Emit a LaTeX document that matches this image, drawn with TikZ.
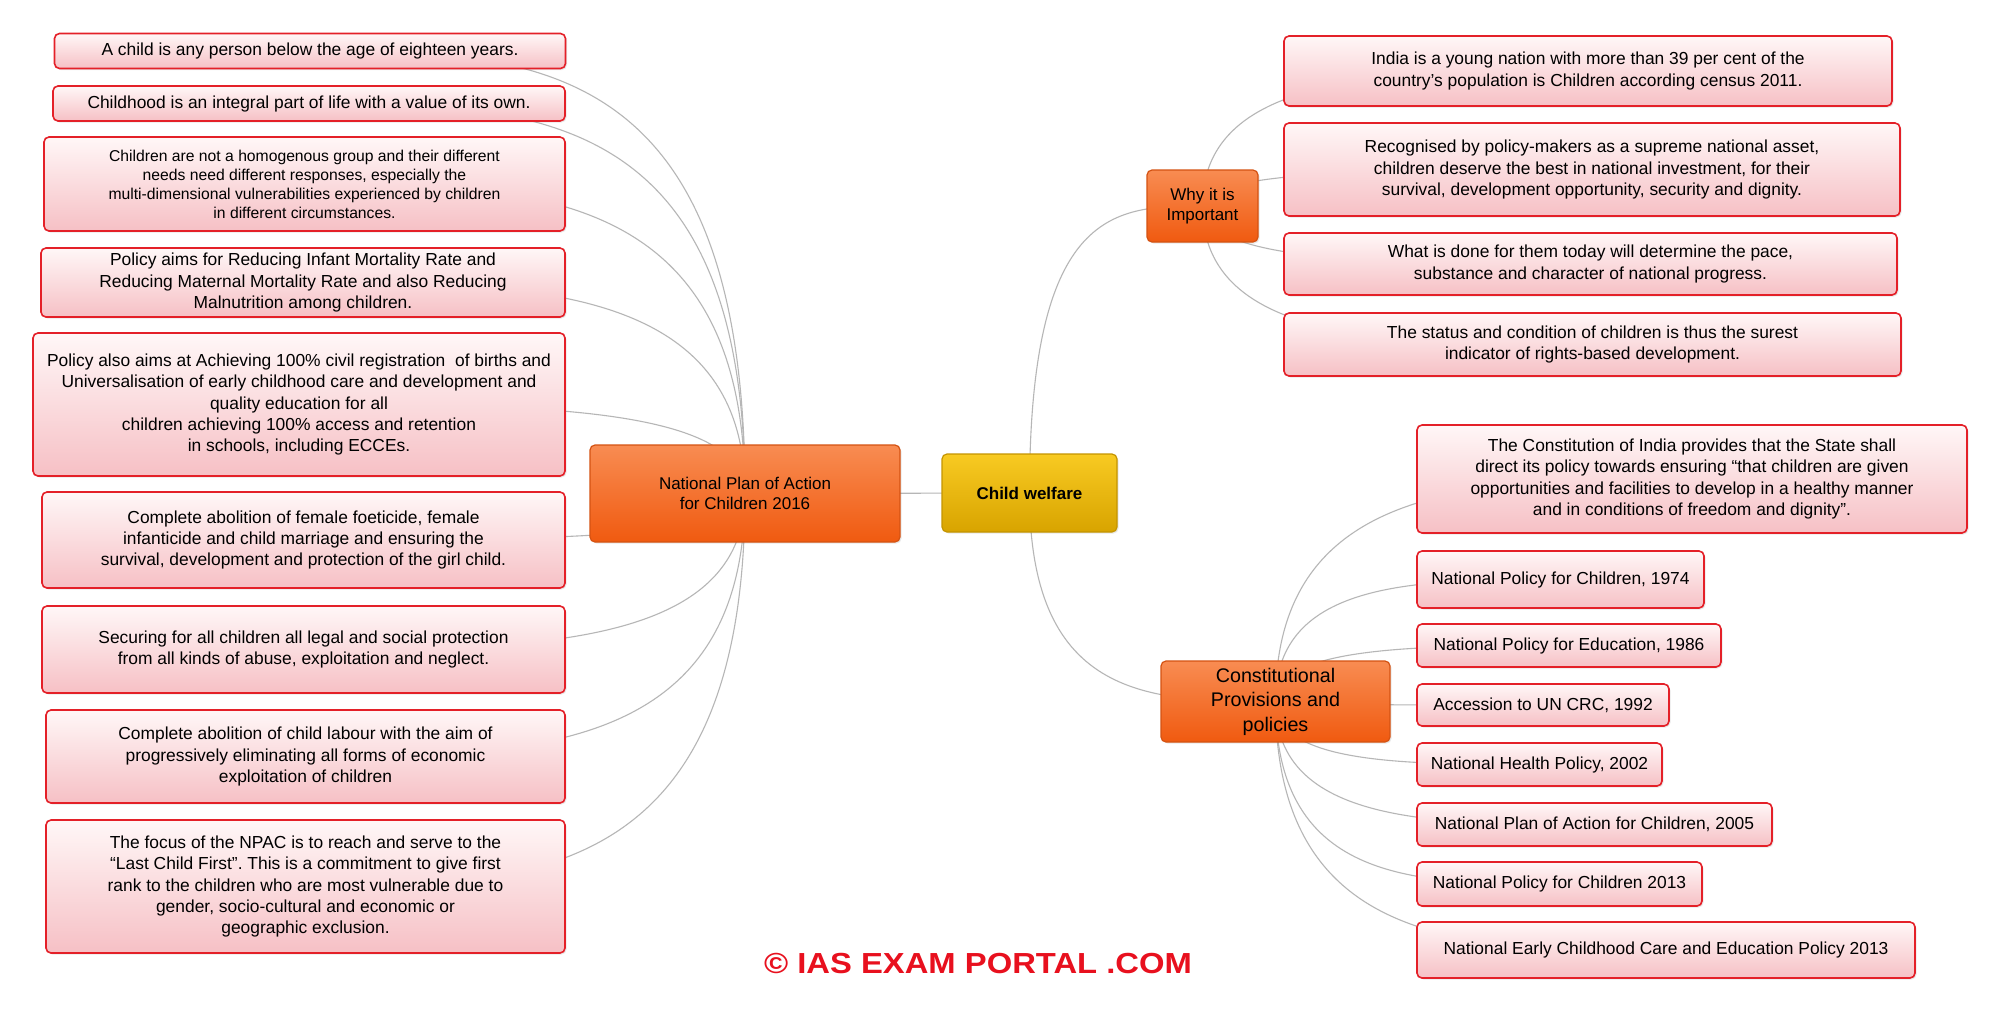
\documentclass[tikz,border=0pt]{standalone}
\usepackage{fontspec}
\setmainfont{Liberation Sans}
\usetikzlibrary{calc,shadows,backgrounds}
\frenchspacing
\definecolor{boxred}{RGB}{228,32,40}
\definecolor{pinktop}{RGB}{255,247,247}
\definecolor{pinkbot}{RGB}{246,192,197}
\definecolor{orgtop}{RGB}{248,140,82}
\definecolor{orgbot}{RGB}{240,90,16}
\definecolor{orgline}{RGB}{212,82,18}
\definecolor{yeltop}{RGB}{248,202,34}
\definecolor{yelbot}{RGB}{216,164,0}
\definecolor{yelline}{RGB}{196,148,0}
\definecolor{linkgray}{RGB}{182,182,182}
\definecolor{cpred}{RGB}{232,16,30}
\newcommand\mmfa{\fontsize{17.4}{21.3}\selectfont}
\newcommand\mmfb{\fontsize{15.7}{19}\selectfont}
\newcommand\mmfc{\fontsize{19.7}{24.5}\selectfont}
\newcommand\mmfd{\fontsize{17}{20.5}\selectfont}
\newcommand\mmlink[2]{\draw[link] (#1.center) .. controls (#1.center |- #2.center) and ($(#2.center)!0.5!(#1.center |- #2.center)$) .. (#2.center);}
\tikzset{
  leaf/.style={draw=boxred, line width=1.6pt, rounded corners=5pt,
    top color=pinktop, bottom color=pinkbot, align=center, inner sep=0pt,
    text=black, font=\mmfa,
    drop shadow={shadow xshift=1.5pt, shadow yshift=-1.5pt, opacity=0.18}},
  hub/.style={draw=orgline, line width=1.2pt, rounded corners=5pt,
    top color=orgtop, bottom color=orgbot, align=center, inner sep=0pt,
    text=black, font=\mmfd,
    drop shadow={shadow xshift=1.5pt, shadow yshift=-1.5pt, opacity=0.18}},
  root/.style={draw=yelline, line width=1.2pt, rounded corners=5pt,
    top color=yeltop, bottom color=yelbot, align=center, inner sep=0pt,
    text=black, font=\bfseries\mmfd,
    drop shadow={shadow xshift=1.5pt, shadow yshift=-1.5pt, opacity=0.18}},
  link/.style={draw=linkgray, line width=1.1pt}
}
\begin{document}
\begin{tikzpicture}[x=1pt,y=-1pt]
\useasboundingbox (0,0) rectangle (2000,1010);

% ---- central nodes
\node[root, minimum width=175pt, minimum height=78pt] (cw) at (1029.5,493) {Child welfare};
\node[hub, minimum width=310pt, minimum height=97pt] (np) at (745,493.5) {National Plan of Action\\for Children 2016};
\node[hub, minimum width=111pt, minimum height=72pt] (why) at (1202.5,206) {Why it is\\Important};
\node[hub, font=\mmfc, minimum width=229pt, minimum height=81pt] (cons) at (1275.5,701.5) {Constitutional\\Provisions and\\policies};

% ---- left leaves
\node[leaf, minimum width=511pt, minimum height=35pt] (b1) at (310,51) {A child is any person below the age of eighteen years.};
\node[leaf, minimum width=512pt, minimum height=35pt] (b2) at (309,103.5) {Childhood is an integral part of life with a value of its own.};
\node[leaf, font=\mmfb, minimum width=521pt, minimum height=94pt] (b3) at (304.5,184) {Children are not a homogenous group and their different\\needs need different responses, especially the\\multi-dimensional vulnerabilities experienced by children\\in different circumstances.};
\node[leaf, minimum width=524pt, minimum height=69pt] (b4) at (303,282.5) {Policy aims for Reducing Infant Mortality Rate and\\Reducing Maternal Mortality Rate and also Reducing\\Malnutrition among children.};
\node[leaf, minimum width=532pt, minimum height=143pt] (b5) at (299,404.5) {Policy also aims at Achieving 100\% civil registration\ \ of births and\\Universalisation of early childhood care and development and\\quality education for all\\children achieving 100\% access and retention\\in schools, including ECCEs.};
\node[leaf, minimum width=523pt, minimum height=96pt] (b6) at (303.5,540) {Complete abolition of female foeticide, female\\infanticide and child marriage and ensuring the\\survival, development and protection of the girl child.};
\node[leaf, minimum width=523pt, minimum height=87pt] (b7) at (303.5,649.5) {Securing for all children all legal and social protection\\from all kinds of abuse, exploitation and neglect.};
\node[leaf, minimum width=519pt, minimum height=93pt] (b8) at (305.5,756.5) {Complete abolition of child labour with the aim of\\progressively eliminating all forms of economic\\exploitation of children};
\node[leaf, minimum width=519pt, minimum height=133pt] (b9) at (305.5,886.5) {The focus of the NPAC is to reach and serve to the\\“Last Child First”. This is a commitment to give first\\rank to the children who are most vulnerable due to\\gender, socio-cultural and economic or\\geographic exclusion.};

% ---- right top leaves
\node[leaf, minimum width=608pt, minimum height=70pt] (r1) at (1588,71) {India is a young nation with more than 39 per cent of the\\country’s population is Children according census 2011.};
\node[leaf, minimum width=616pt, minimum height=93pt] (r2) at (1592,169.5) {Recognised by policy-makers as a supreme national asset,\\children deserve the best in national investment, for their\\survival, development opportunity, security and dignity.};
\node[leaf, minimum width=613pt, minimum height=62pt] (r3) at (1590.5,264) {What is done for them today will determine the pace,\\substance and character of national progress.};
\node[leaf, minimum width=617pt, minimum height=63pt] (r4) at (1592.5,344.5) {The status and condition of children is thus the surest\\indicator of rights-based development.};

% ---- right bottom leaves
\node[leaf, minimum width=550pt, minimum height=108pt] (r5) at (1692,479) {The Constitution of India provides that the State shall\\direct its policy towards ensuring “that children are given\\opportunities and facilities to develop in a healthy manner\\and in conditions of freedom and dignity”.};
\node[leaf, minimum width=287pt, minimum height=57pt] (p1) at (1560.5,579.5) {National Policy for Children, 1974};
\node[leaf, minimum width=304pt, minimum height=43pt] (p2) at (1569,645.5) {National Policy for Education, 1986};
\node[leaf, minimum width=252pt, minimum height=42pt] (p3) at (1543,705) {Accession to UN CRC, 1992};
\node[leaf, minimum width=245pt, minimum height=43pt] (p4) at (1539.5,764.5) {National Health Policy, 2002};
\node[leaf, minimum width=355pt, minimum height=43pt] (p5) at (1594.5,824.5) {National Plan of Action for Children, 2005};
\node[leaf, minimum width=285pt, minimum height=44pt] (p6) at (1559.5,884) {National Policy for Children 2013};
\node[leaf, minimum width=498pt, minimum height=56pt] (p7) at (1666,950) {National Early Childhood Care and Education Policy 2013};

% ---- background page and connectors (behind the boxes)
\begin{pgfonlayer}{background}
\fill[white] (0,0) rectangle (2000,1010);
\draw[link] (np.center) -- (cw.center);
\mmlink{cw}{why}
\mmlink{cw}{cons}
\foreach \c in {b1,b2,b3,b4,b5,b6,b7,b8,b9}{\mmlink{np}{\c}}
\foreach \c in {r1,r2,r3,r4}{\mmlink{why}{\c}}
\foreach \c in {r5,p1,p2,p3,p4,p5,p6,p7}{\mmlink{cons}{\c}}
\end{pgfonlayer}

% ---- copyright
\node[text=cpred, inner sep=0pt, font=\bfseries\fontsize{29}{31}\selectfont] (copy) at (978,964) {\scalebox{1.13}[1]{© IAS EXAM PORTAL .COM}};
\end{tikzpicture}
\end{document}
